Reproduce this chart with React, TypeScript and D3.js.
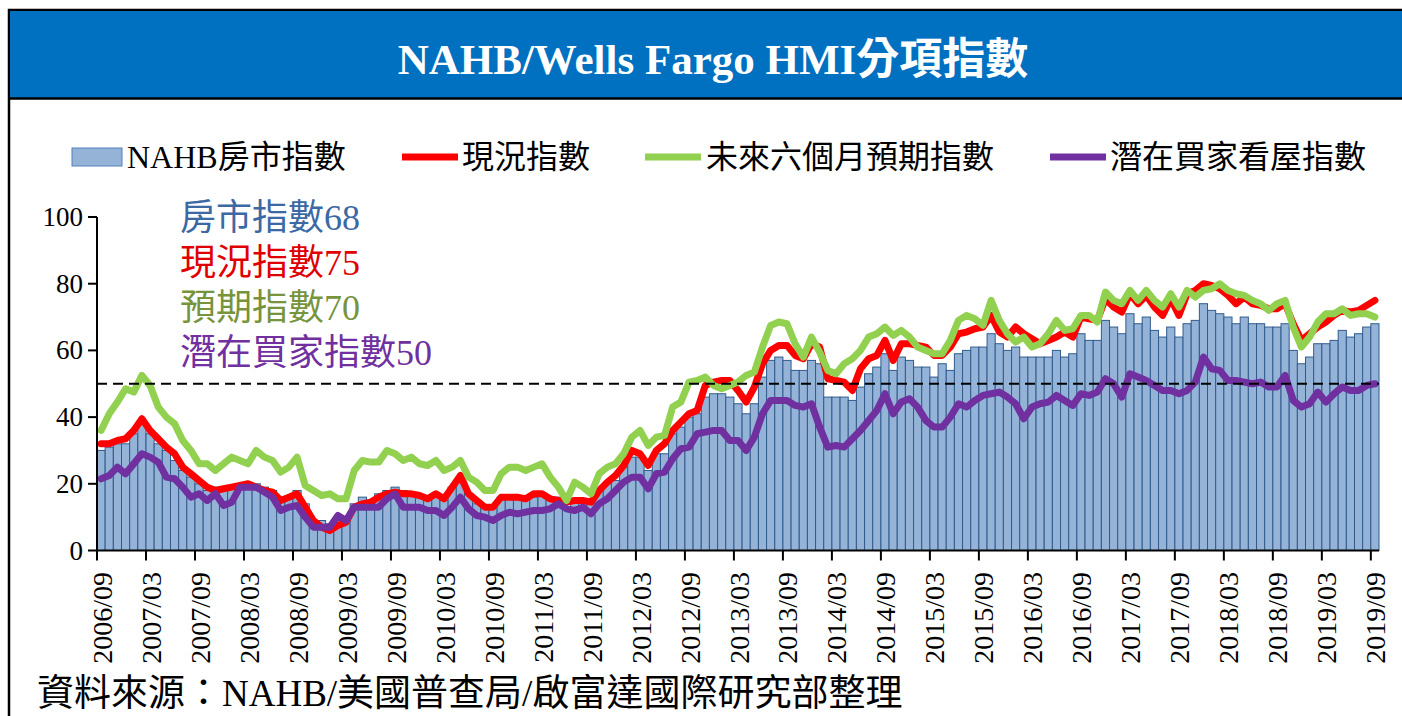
import React from 'react'
import * as d3 from 'd3'

// monthly categories 2006/09 .. 2019/09
const months = d3.timeMonth.range(new Date(2006, 8, 1), new Date(2019, 9, 1))
const categories = months.map(d => d3.timeFormat('%Y/%m')(d))

// NAHB 房市指數 (bars)
const hmiIndex = [
  30, 31, 32, 32,
  35, 38, 35, 32, 30, 27, 24, 22, 20, 18, 19, 18,
  19, 20, 20, 20, 19, 18, 16, 16, 18, 14, 9, 9,
  8, 9, 9, 14, 16, 15, 17, 18, 19, 18, 17, 16,
  15, 17, 15, 19, 22, 17, 14, 13, 13, 16, 16, 16,
  16, 16, 17, 16, 16, 13, 15, 15, 14, 18, 20, 21,
  25, 28, 28, 24, 29, 29, 35, 37, 40, 41, 46, 47,
  47, 46, 44, 41, 44, 52, 57, 58, 57, 54, 54, 57,
  56, 46, 46, 46, 45, 49, 53, 55, 59, 54, 58, 57,
  55, 55, 52, 56, 54, 59, 60, 61, 61, 65, 62, 60,
  61, 58, 58, 58, 58, 60, 58, 59, 65, 63, 63, 69,
  67, 65, 71, 68, 70, 66, 64, 67, 64, 68, 69, 74,
  72, 71, 70, 68, 70, 68, 68, 67, 67, 68, 60, 56,
  58, 62, 62, 63, 66, 64, 65, 67, 68
]

// 現況指數
const presentSales = [
  32, 32, 33, 33.5,
  36, 39.5, 36, 33.5, 31, 29, 25, 23, 21, 19, 18, 18.5,
  19, 19.5, 20, 19, 18, 17.5, 15, 16, 17, 13, 9, 7,
  6, 7.5, 8.5, 13, 14, 14.5, 16, 17, 17.5, 17, 17, 16.5,
  15.5, 17, 15.5, 19, 22.5, 17, 15, 13, 13, 16, 16, 16,
  15.5, 17, 17, 15.5, 15, 14.5, 15, 15, 14.5, 18, 20.5, 22.5,
  25.5, 30, 29, 25.5, 30, 32, 36, 38.5, 41, 42, 49.5, 50.5,
  51, 51, 48, 44.5, 49, 56, 60, 61.5, 61.5, 58.5, 57.5, 62,
  61, 51.5, 51, 50.5, 48, 54.5, 57.5, 58.5, 63, 57, 62, 62,
  61.5, 61, 58.5, 58.5, 61, 65, 65.5, 66.5, 67, 70.5, 65.5, 64,
  67, 65, 63.5, 62, 63, 64, 65.5, 64, 70, 69.5, 69, 75.5,
  73, 71.5, 77, 74, 76.5, 73, 70.5, 75.5, 70.5, 77, 78, 80,
  79.5, 78.5, 76.5, 74, 76, 74, 73.5, 72.5, 72.5, 74, 68, 63,
  65, 67, 68.5, 70.5, 72, 71.5, 72, 73.5, 75
]

// 未來六個月預期指數
const futureSales = [
  36, 41, 44.5, 48.5,
  47.5, 52.5, 49.5, 43, 40, 38, 33, 30, 26, 26, 24, 26,
  28, 27, 26, 30, 28, 27, 23.5, 25, 28, 19.5, 18, 16.5,
  17, 15.5, 15.5, 24, 27, 26.5, 26.5, 30, 29, 27, 28, 26,
  25.5, 27, 24, 25, 27, 22, 20.5, 18, 18, 23, 25, 25,
  24, 25, 26, 22, 19, 15, 20.5, 19, 17, 23, 25, 26,
  29, 34, 36, 31.5, 34, 34.5, 43, 44.5, 50.5, 51, 52, 49.5,
  48.5, 49.5, 50.5, 52.5, 53.5, 61, 67.5, 68.5, 68, 62, 58, 64,
  59.5, 54, 53, 56, 57.5, 60, 64, 65, 67, 64.5, 66, 64,
  61, 60, 59, 59, 63, 69, 70.5, 69.5, 67.5, 75, 69, 65,
  62.5, 64, 61, 62, 65, 69, 66, 66.5, 70.5, 70.5, 68.5, 77.5,
  75, 74, 78, 75, 78, 75, 73, 77, 73, 78, 76, 78,
  78.5, 80, 78, 77, 76.5, 75, 74, 72, 74, 75, 67, 61,
  64, 68.5, 71, 71, 72.5, 70.5, 71, 71, 70
]

// 潛在買家看屋指數
const buyerTraffic = [
  21.5, 22.5, 25, 23,
  26, 29, 28, 26.5, 22, 21.5, 19, 16, 17, 15, 17, 13.5,
  14.5, 19, 19, 19, 17.5, 16, 12, 13, 13.5, 10, 7, 7,
  7, 10.5, 9, 13, 13, 13, 13, 15.5, 17, 13, 13, 13,
  12, 12, 10.5, 13, 16, 12.5, 10.5, 10, 9, 10.5, 11.5, 11,
  11.5, 12, 12, 12.5, 14, 12.5, 12, 13, 11, 14, 15.5, 18,
  20.5, 22, 22, 18.5, 23, 23.5, 27.5, 30.5, 31, 35, 35.5, 36,
  36, 33, 33, 30, 34, 41, 45, 45, 45, 43.5, 43, 44,
  37, 31, 31.5, 31, 33.5, 36, 39, 42, 47, 41, 44.5, 45.5,
  43, 39, 37, 37, 40, 44, 43, 45, 46.5, 47, 47.5, 46,
  44, 39.5, 43, 44, 44.5, 46.5, 45, 43.5, 47, 46.5, 47.5, 51.5,
  50, 46, 53, 52, 51, 49.5, 48, 48, 47, 48, 50.5, 58,
  54.5, 54, 51, 51, 50.5, 50, 50.5, 49, 49, 52.5, 45, 43,
  44, 47.5, 44.5, 47, 49, 48, 48, 49.5, 50
]

const yTicks = [0, 20, 40, 60, 80, 100]
const refLevel = 50

const lineSeries = [
  { name: '現況指數', short: '現況指數', values: presentSales, color: '#ff0000', text: '#e00000' },
  { name: '未來六個月預期指數', short: '預期指數', values: futureSales, color: '#92d050', text: '#77933c' },
  { name: '潛在買家看屋指數', short: '潛在買家指數', values: buyerTraffic, color: '#7030a0', text: '#7030a0' }
]

const W = 1402
const H = 716
const latin = "'Liberation Serif', 'Noto Sans CJK TC', serif"

export default function App() {
  const plot = { left: 97, right: 1379, top: 217, bottom: 550.5 }
  const x = d3.scaleBand<number>().domain(d3.range(categories.length)).range([plot.left, plot.right]).padding(0)
  const y = d3.scaleLinear().domain([0, 100]).range([plot.bottom, plot.top])
  const bw = x.bandwidth()
  const line = d3.line<number>().x((_, i) => (x(i) as number) + bw / 2).y(d => y(d))

  const tickIdx = d3.range(0, categories.length, 6)

  const callouts = [
    { label: '房市指數', value: hmiIndex[hmiIndex.length - 1], color: '#3c69a3' },
    ...lineSeries.map(s => ({ label: s.short, value: s.values[s.values.length - 1], color: s.text }))
  ]

  const legend = [
    { name: 'NAHB房市指數', kind: 'bar', color: '#95b3d7', lx: 72, tx: 127 },
    { name: lineSeries[0].name, kind: 'line', color: lineSeries[0].color, lx: 402, tx: 462 },
    { name: lineSeries[1].name, kind: 'line', color: lineSeries[1].color, lx: 645, tx: 706 },
    { name: lineSeries[2].name, kind: 'line', color: lineSeries[2].color, lx: 1050, tx: 1110 }
  ]

  return (
    <svg width={W} height={H} viewBox={`0 0 ${W} ${H}`} style={{ position: 'absolute', left: 0, top: 0, background: '#fff' }}>
      {/* frame + title band */}
      <rect x={9} y={10} width={W + 20} height={H + 20} fill="#fff" stroke="#000" strokeWidth={2.5} />
      <rect x={10} y={11} width={W} height={87} fill="#0070c0" />
      <line x1={9} x2={W} y1={98.5} y2={98.5} stroke="#000" strokeWidth={2.5} />
      <text x={713} y={74} textAnchor="middle" fill="#fff" fontFamily={latin} fontWeight="bold" fontSize={43}>
        NAHB/Wells Fargo HMI分項指數
      </text>

      {/* legend */}
      {legend.map(item => (
        <g key={item.name}>
          {item.kind === 'bar'
            ? <rect x={item.lx} y={148} width={50} height={18} fill={item.color} stroke="#4f81bd" strokeWidth={1} />
            : <line x1={item.lx} x2={item.lx + 56} y1={157} y2={157} stroke={item.color} strokeWidth={7} />}
          <text x={item.tx} y={168} fontFamily={latin} fontSize={32} fill="#000">{item.name}</text>
        </g>
      ))}

      {/* bars */}
      {hmiIndex.map((v, i) => (
        <rect key={i} x={x(i)} y={y(v)} width={bw} height={y(0) - y(v)} fill="#95b3d7" stroke="#2f5b8e" strokeWidth={1} />
      ))}

      {/* lines */}
      {lineSeries.map(s => (
        <path key={s.name} d={line(s.values) || ''} fill="none" stroke={s.color} strokeWidth={7} strokeLinejoin="round" strokeLinecap="round" />
      ))}

      {/* 50 reference line */}
      <line x1={plot.left} x2={plot.right} y1={y(refLevel)} y2={y(refLevel)} stroke="#000" strokeWidth={2} strokeDasharray="10,6" />

      {/* y axis */}
      <line x1={plot.left} x2={plot.left} y1={y(100)} y2={y(0)} stroke="#000" strokeWidth={2} />
      {yTicks.map(t => (
        <g key={t}>
          <line x1={plot.left - 9} x2={plot.left} y1={y(t)} y2={y(t)} stroke="#000" strokeWidth={2} />
          <text x={83} y={y(t) + 9} textAnchor="end" fontFamily={latin} fontSize={27} fill="#000">{t}</text>
        </g>
      ))}

      {/* x axis */}
      <line x1={plot.left} x2={plot.right} y1={y(0)} y2={y(0)} stroke="#000" strokeWidth={2} />
      {tickIdx.map(i => (
        <g key={i}>
          <line x1={x(i)} x2={x(i)} y1={y(0)} y2={y(0) + 10} stroke="#000" strokeWidth={2} />
          <text
            transform={`translate(${(x(i) as number) + bw / 2 + 1},572) rotate(-90)`}
            textAnchor="end"
            dominantBaseline="central"
            fontFamily={latin}
            fontSize={28}
            fill="#000"
          >
            {categories[i]}
          </text>
        </g>
      ))}

      {/* latest-value callouts */}
      {callouts.map((c, k) => (
        <text key={c.label} x={180} y={230 + k * 45} fontFamily={latin} fontSize={36} fill={c.color}>
          {c.label}{c.value}
        </text>
      ))}

      {/* source */}
      <text x={37} y={706} fontFamily={latin} fontSize={37} fill="#000">資料來源：NAHB/美國普查局/啟富達國際研究部整理</text>
    </svg>
  )
}
